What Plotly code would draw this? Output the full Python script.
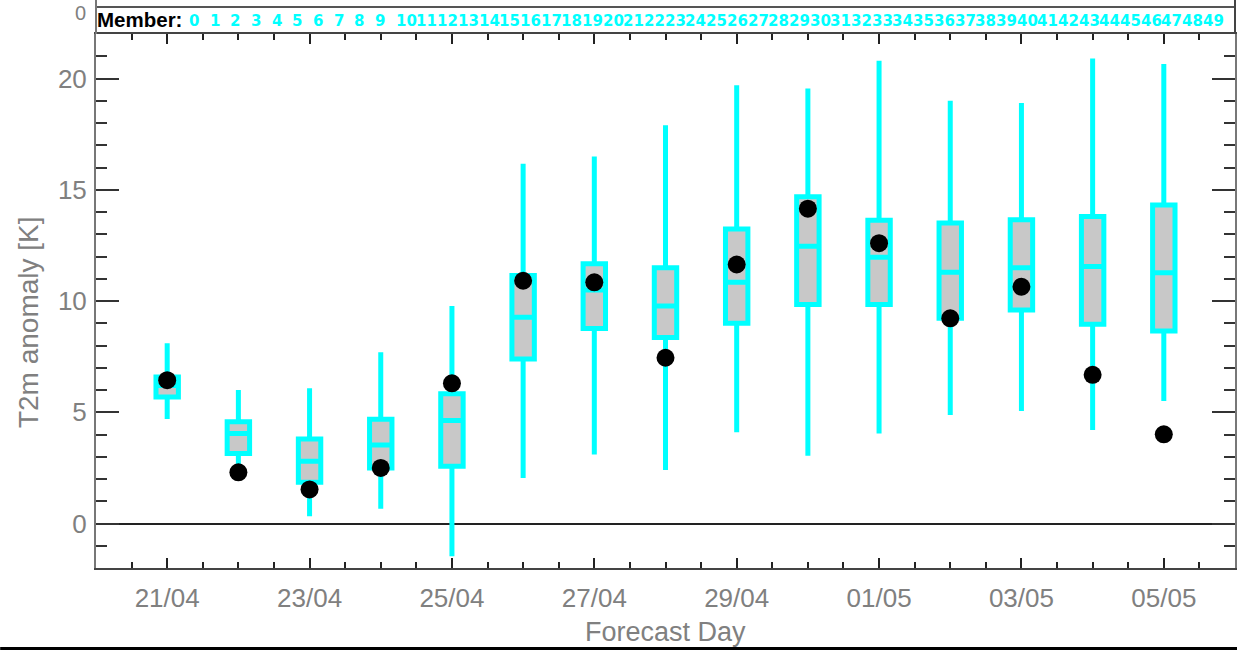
import plotly.graph_objects as go

# ---------------- data ----------------
dates = ["2024-04-21", "2024-04-22", "2024-04-23", "2024-04-24", "2024-04-25",
         "2024-04-26", "2024-04-27", "2024-04-28", "2024-04-29", "2024-04-30",
         "2024-05-01", "2024-05-02", "2024-05-03", "2024-05-04", "2024-05-05"]
upper_whisker = [8.1, 6.0, 6.08, 7.7, 9.77, 16.17, 16.5, 17.9, 19.7, 19.55, 20.8, 19.0, 18.9, 20.9, 20.65]
q3_values = [6.58, 4.57, 3.8, 4.68, 5.83, 11.15, 11.67, 11.49, 13.24, 14.68, 13.63, 13.51, 13.65, 13.8, 14.32]
median_values = [6.2, 4.05, 2.8, 3.53, 4.63, 9.27, 10.5, 9.77, 10.84, 12.46, 11.97, 11.29, 11.49, 11.55, 11.27]
q1_values = [5.68, 3.15, 1.85, 2.5, 2.57, 7.39, 8.76, 8.36, 9.0, 9.84, 9.84, 9.23, 9.59, 8.96, 8.65]
lower_whisker = [4.7, 2.4, 0.33, 0.66, -1.47, 2.05, 3.1, 2.4, 4.1, 3.05, 4.04, 4.88, 5.06, 4.2, 5.51]
observed = [6.44, 2.3, 1.53, 2.5, 6.3, 10.91, 10.84, 7.45, 11.64, 14.15, 12.6, 9.22, 10.64, 6.68, 4.01]

members = ["0", "1", "2", "3", "4", "5", "6", "7", "8", "9",
           "10", "11", "12", "13", "14", "15", "16", "17", "18", "19",
           "20", "21", "22", "23", "24", "25", "26", "27", "28", "29",
           "30", "31", "32", "33", "34", "35", "36", "37", "38", "39",
           "40", "41", "42", "43", "44", "45", "46", "47", "48", "49"]

x_range = ["2024-04-20", "2024-05-06"]
y_range = [-2, 22]
y_title = "T2m anomaly [K]"
x_title = "Forecast Day"

# ---------------- style ----------------
FONT = "Liberation Sans, Arial, Helvetica, sans-serif"
NUM_FONT = "DejaVu Sans, Verdana, sans-serif"
CYAN = "#00ffff"
GRAY_TXT = "#808080"
W, H = 1239, 650
ML, MR, MT, MB = 96, 2, 34, 82
PW = W - ML - MR
PH = H - MT - MB
DAY_MS = 86400000


def px_x(px):
    return (px - ML) / PW


def px_y(py):
    return (H - MB - py) / PH


fig = go.Figure()

fig.add_trace(go.Box(
    x=dates,
    q1=q1_values, median=median_values, q3=q3_values,
    lowerfence=lower_whisker, upperfence=upper_whisker,
    boxpoints=False,
    line=dict(color=CYAN, width=5),
    fillcolor="#c8c8c8",
    whiskerwidth=0,
    width=0.315 * DAY_MS,
    showlegend=False,
    hoverinfo="skip",
))

fig.add_trace(go.Scatter(
    x=dates, y=observed, mode="markers",
    marker=dict(color="black", size=18, line=dict(width=0)),
    showlegend=False,
))

annotations = []
# Member strip
annotations.append(dict(
    text="<b>Member:</b>", x=px_x(95), y=px_y(19.5), xref="paper", yref="paper",
    xanchor="left", yanchor="middle", showarrow=False,
    font=dict(family=FONT, size=20.5, color="black"),
))
for i, m in enumerate(members):
    annotations.append(dict(
        text="<b>" + m + "</b>", x=px_x(187 + 20.73 * i), y=px_y(20.5), xref="paper", yref="paper",
        xanchor="left", yanchor="middle", showarrow=False,
        font=dict(family=NUM_FONT, size=15, color=CYAN),
    ))
# label of the panel above (only its lower part shows in the reference)
annotations.append(dict(
    text="0", x=px_x(88), y=px_y(0), xref="paper", yref="paper",
    xanchor="right", yanchor="top", showarrow=False,
    font=dict(family=FONT, size=20, color=GRAY_TXT),
))
# y title
annotations.append(dict(
    text=y_title, x=px_x(28), y=px_y(322), xref="paper", yref="paper",
    xanchor="center", yanchor="middle", showarrow=False, textangle=-90,
    font=dict(family=FONT, size=28, color=GRAY_TXT),
))
# x title
annotations.append(dict(
    text=x_title, x=0.5, y=px_y(632), xref="paper", yref="paper",
    xanchor="center", yanchor="middle", showarrow=False,
    font=dict(family=FONT, size=27, color=GRAY_TXT),
))

shapes = [
    dict(type="line", xref="paper", yref="paper", x0=0, x1=1, y0=px_y(7), y1=px_y(7),
         line=dict(color="#555555", width=2)),
    dict(type="line", xref="paper", yref="paper", x0=0, x1=0, y0=1, y1=px_y(0),
         line=dict(color="#777777", width=2)),
    dict(type="line", xref="paper", yref="paper", x0=1, x1=1, y0=1, y1=px_y(0),
         line=dict(color="#444444", width=2)),
    dict(type="line", xref="paper", yref="paper", x0=px_x(0), x1=px_x(W), y0=px_y(648.5), y1=px_y(648.5),
         line=dict(color="black", width=3)),
]

fig.update_layout(
    width=W, height=H,
    margin=dict(l=ML, r=MR, t=MT, b=MB, pad=0),
    paper_bgcolor="white", plot_bgcolor="white",
    font=dict(family=FONT, color=GRAY_TXT),
    showlegend=False,
    annotations=annotations,
    shapes=shapes,
    xaxis=dict(
        type="date", range=x_range,
        tickformat="%d/%m", tick0="2024-04-21", dtick=2 * DAY_MS,
        ticks="inside", ticklen=10, tickwidth=1.5, tickcolor="#222222",
        minor=dict(ticks="inside", dtick=DAY_MS / 2, tick0="2024-04-21", ticklen=6,
                   tickwidth=1.5, tickcolor="#222222"),
        showline=True, linecolor="#444444", linewidth=2, mirror="ticks",
        showgrid=False, zeroline=False,
        tickfont=dict(family=FONT, size=26, color=GRAY_TXT),
        ticklabelstandoff=6,
    ),
    yaxis=dict(
        range=y_range, tick0=0, dtick=5,
        ticks="inside", ticklen=23, tickwidth=1.5, tickcolor="#333333",
        minor=dict(ticks="inside", dtick=1, ticklen=11, tickwidth=1.5, tickcolor="#333333"),
        showline=True, linecolor="#777777", linewidth=2, mirror="ticks",
        showgrid=False,
        zeroline=True, zerolinecolor="#222222", zerolinewidth=1.5,
        tickfont=dict(family=FONT, size=26, color=GRAY_TXT),
        ticklabelstandoff=2,
    ),
)

fig.write_html("out.html",
               config={"displayModeBar": False},
               post_script="document.body.style.margin='0px';document.body.style.overflow='hidden';")
